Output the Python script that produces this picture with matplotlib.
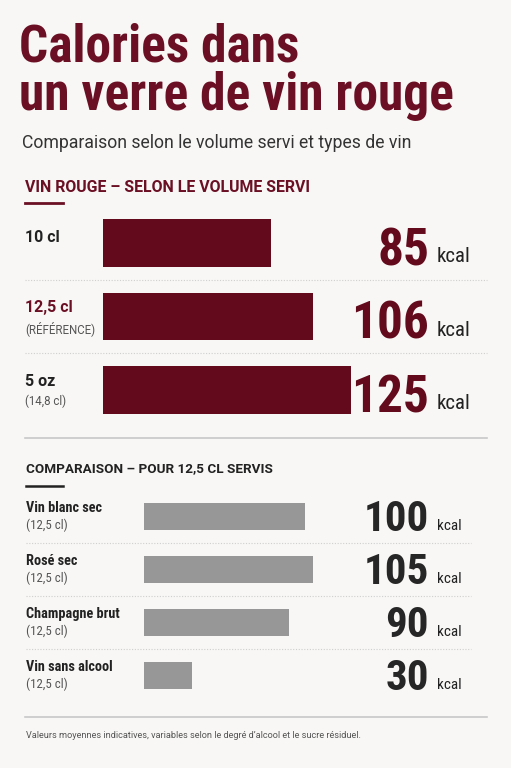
import matplotlib
matplotlib.use("Agg")
import matplotlib.pyplot as plt
from matplotlib.transforms import blended_transform_factory

# Data
rouge_labels = ["10 cl", "12,5 cl", "5 oz"]
rouge_sub = ["", "(RÉFÉRENCE)", "(14,8 cl)"]
rouge_kcal = [85, 106, 125]

comp_labels = ["Vin blanc sec", "Rosé sec", "Champagne brut", "Vin sans alcool"]
comp_sub = ["(12,5 cl)", "(12,5 cl)", "(12,5 cl)", "(12,5 cl)"]
comp_kcal = [100, 105, 90, 30]

BG = "#f8f7f5"
RED = "#630a1c"
TITLE_RED = "#6b1024"
GREY_BAR = "#979797"
DARK = "#222222"
MID = "#555555"
NARROW = ["Roboto Condensed", "Barlow Condensed", "DejaVu Sans"]
SANS = ["Roboto", "DejaVu Sans"]

W, H = 511, 768
fig = plt.figure(figsize=(W / 100, H / 100), dpi=100, facecolor=BG)


def fx(px):
    return px / W


def fy(py):
    return 1 - py / H


def px_axes(left, top, right, bottom):
    return fig.add_axes([fx(left), fy(bottom), (right - left) / W, (bottom - top) / H])


# Titles
fig.text(fx(19), fy(62), "Calories dans", family=NARROW, weight="bold",
         fontsize=37, color=TITLE_RED, va="baseline")
fig.text(fx(19), fy(110), "un verre de vin rouge", family=NARROW, weight="bold",
         fontsize=37, color=TITLE_RED, va="baseline")
fig.text(fx(22), fy(143), "Comparaison selon le volume servi et types de vin",
         family=SANS, fontsize=12.7, color="#333333", va="center")

# Section 1
fig.text(fx(25), fy(188), "VIN ROUGE – SELON LE VOLUME SERVI", family=SANS,
         weight="bold", fontsize=11.4, color=TITLE_RED, va="center")
fig.add_artist(plt.Line2D([fx(25), fx(63)], [fy(203), fy(203)], color=TITLE_RED,
                          lw=2, transform=fig.transFigure))

scale1 = 1.98
ax1 = px_axes(103, 206.25, 487, 426.75)
ax1.barh(range(len(rouge_kcal)), rouge_kcal, height=0.65, color=RED, left=0)
ax1.set_xlim(0, 384 / scale1)
ax1.set_ylim(len(rouge_kcal) - 0.5, -0.5)
ax1.axis("off")
tr1 = blended_transform_factory(fig.transFigure, ax1.transData)

label_dy1 = [-0.07, -0.12, -0.11]
for i, (lab, sub, v) in enumerate(zip(rouge_labels, rouge_sub, rouge_kcal)):
    col = TITLE_RED if sub == "(RÉFÉRENCE)" else DARK
    ax1.text(fx(25), i + label_dy1[i], lab, transform=tr1, family=SANS,
             weight="bold", fontsize=11.5, color=col, va="center")
    if sub:
        ax1.text(fx(25), i + 0.16, sub, transform=tr1, family=SANS,
                 fontsize=8.3, color=MID, va="center")
    ax1.text(fx(429), i + 0.30, str(v), transform=tr1, family=NARROW,
             weight="bold", fontsize=37, color=RED, ha="right", va="baseline")
    ax1.text(fx(437), i + 0.26, "kcal", transform=tr1, family=NARROW,
             fontsize=15, color=DARK, va="baseline")
    if i < len(rouge_kcal) - 1:
        ax1.plot([fx(25), fx(487)], [i + 0.5, i + 0.5], transform=tr1,
                 color="#cfcfcf", lw=0.8, ls=(0, (1, 1.5)), clip_on=False)

fig.add_artist(plt.Line2D([fx(25), fx(487)], [fy(438), fy(438)], color="#c8c8c8",
                          lw=1.2, transform=fig.transFigure))

# Section 2
fig.text(fx(26), fy(469), "COMPARAISON – POUR 12,5 CL SERVIS", family=SANS,
         weight="bold", fontsize=9.7, color=DARK, va="center")
fig.add_artist(plt.Line2D([fx(26), fx(63)], [fy(486), fy(486)], color=DARK,
                          lw=1.8, transform=fig.transFigure))

scale2 = 1.61
ax2 = px_axes(144, 490, 487, 702)
ax2.barh(range(len(comp_kcal)), comp_kcal, height=0.51, color=GREY_BAR, left=0)
ax2.set_xlim(0, 343 / scale2)
ax2.set_ylim(len(comp_kcal) - 0.5, -0.5)
ax2.axis("off")
tr2 = blended_transform_factory(fig.transFigure, ax2.transData)

for i, (lab, sub, v) in enumerate(zip(comp_labels, comp_sub, comp_kcal)):
    ax2.text(fx(26), i - 0.16, lab, transform=tr2, family=NARROW,
             weight="bold", fontsize=10.3, color=DARK, va="center")
    ax2.text(fx(26), i + 0.16, sub, transform=tr2, family=NARROW,
             fontsize=9.3, color=MID, va="center")
    ax2.text(fx(429), i + 0.27, str(v), transform=tr2, family=NARROW,
             weight="bold", fontsize=31, color="#262626", ha="right", va="baseline")
    ax2.text(fx(437), i + 0.25, "kcal", transform=tr2, family=NARROW,
             fontsize=11, color=DARK, va="baseline")
    if i < len(comp_kcal) - 1:
        ax2.plot([fx(26), fx(471)], [i + 0.5, i + 0.5], transform=tr2,
                 color="#cfcfcf", lw=0.8, ls=(0, (1, 1.5)), clip_on=False)

fig.add_artist(plt.Line2D([fx(25), fx(487)], [fy(717), fy(717)], color="#c8c8c8",
                          lw=1.2, transform=fig.transFigure))
fig.text(fx(26), fy(736), "Valeurs moyennes indicatives, variables selon le degré d’alcool et le sucre résiduel.",
         family=SANS, fontsize=6.6, color=MID, va="center")

fig.savefig("out.png", dpi=100, facecolor=BG)
